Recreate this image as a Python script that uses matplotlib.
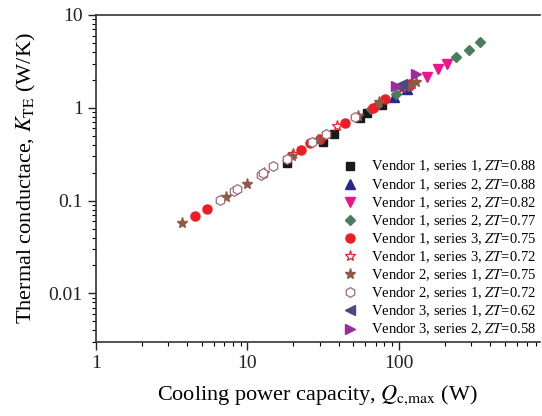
import matplotlib.pyplot as plt
from matplotlib.ticker import LogLocator, NullFormatter

plt.rcParams['font.family'] = ['Liberation Serif', 'DejaVu Serif']
plt.rcParams['mathtext.fontset'] = 'stix'

# Vendor 1, series 1, ZT=0.88
v1s1_q = [18.3, 31.6, 37.4, 55.4, 61.6, 77.3]
v1s1_k = [0.253, 0.426, 0.519, 0.77, 0.873, 1.06]
# Vendor 1, series 2, ZT=0.88
v1s2a_q = [92.7, 113]
v1s2a_k = [1.30, 1.58]
# Vendor 1, series 2, ZT=0.82
v1s2b_q = [122, 153, 181, 207]
v1s2b_k = [1.76, 2.13, 2.59, 2.94]
# Vendor 1, series 2, ZT=0.77
v1s2c_q = [65, 70, 95.5, 237, 289, 341]
v1s2c_k = [0.98, 1.05, 1.40, 3.49, 4.15, 5.06]
# Vendor 1, series 3, ZT=0.75
v1s3a_q = [4.48, 5.37, 22.7, 26.0, 30.0, 44.2, 67.4, 81.0, 118]
v1s3a_k = [0.068, 0.081, 0.35, 0.415, 0.46, 0.68, 0.99, 1.23, 1.79]
# Vendor 1, series 3, ZT=0.72
v1s3b_q = [20.1, 39.1, 105]
v1s3b_k = [0.316, 0.633, 1.62]
# Vendor 2, series 1, ZT=0.75
v2s1a_q = [3.72, 7.17, 10.0, 12.9, 18.6, 19.8, 29.3, 53.7, 73.9, 111, 122, 129]
v2s1a_k = [0.057, 0.109, 0.15, 0.198, 0.286, 0.30, 0.448, 0.81, 1.15, 1.66, 1.79, 1.88]
# Vendor 2, series 1, ZT=0.72
v2s1b_q = [6.56, 8.21, 8.59, 12.2, 12.6, 14.8, 18.3, 26.8, 33.1, 51.4]
v2s1b_k = [0.101, 0.126, 0.133, 0.188, 0.198, 0.235, 0.279, 0.426, 0.519, 0.79]
# Vendor 3, series 1, ZT=0.62
v3s1_q = [98.5, 105]
v3s1_k = [1.70, 1.79]
# Vendor 3, series 2, ZT=0.58
v3s2_q = [95.5, 129]
v3s2_k = [1.70, 2.29]

fig = plt.figure(figsize=(5.42, 4.16), dpi=100)
ax = fig.add_axes([0.177, 0.178, 0.819, 0.786])

ms = 6.5
ax.plot(v1s1_q, v1s1_k, 's', color='#1a1a1a', ms=5.5, label='Vendor 1, series 1, $ZT$=0.88')
ax.plot(v1s2a_q, v1s2a_k, '^', color='#27288f', ms=ms, label='Vendor 1, series 2, $ZT$=0.88')
ax.plot(v1s2b_q, v1s2b_k, 'v', color='#ec168c', ms=ms, label='Vendor 1, series 2, $ZT$=0.82')
ax.plot(v1s2c_q, v1s2c_k, 'D', color='#4a7d5c', ms=5.5, label='Vendor 1, series 2, $ZT$=0.77')
ax.plot(v1s3a_q, v1s3a_k, 'o', color='#ee1c25', ms=ms, label='Vendor 1, series 3, $ZT$=0.75')
ax.plot(v1s3b_q, v1s3b_k, '*', mfc='white', mec='#ee1c25', mew=0.9, ms=8, label='Vendor 1, series 3, $ZT$=0.72')
ax.plot(v2s1a_q, v2s1a_k, '*', color='#8e5a45', ms=8, label='Vendor 2, series 1, $ZT$=0.75')
ax.plot(v2s1b_q, v2s1b_k, 'h', mfc='white', mec='#a06a78', mew=0.9, ms=7, label='Vendor 2, series 1, $ZT$=0.72')
ax.plot(v3s1_q, v3s1_k, '<', color='#4a4a82', ms=ms, label='Vendor 3, series 1, $ZT$=0.62')
ax.plot(v3s2_q, v3s2_k, '>', color='#9b2c9c', ms=ms, label='Vendor 3, series 2, $ZT$=0.58')

ax.set_xscale('log')
ax.set_yscale('log')
ax.set_xlim(1, 850)
ax.set_ylim(0.003, 10)
ax.set_xticks([1, 10, 100])
ax.set_xticklabels(['1', '10', '100'])
ax.set_yticks([0.01, 0.1, 1, 10])
ax.set_yticklabels(['0.01', '0.1', '1', '10'])
ax.xaxis.set_minor_locator(LogLocator(base=10, subs=range(2, 10)))
ax.yaxis.set_minor_locator(LogLocator(base=10, subs=range(2, 10)))
ax.xaxis.set_minor_formatter(NullFormatter())
ax.yaxis.set_minor_formatter(NullFormatter())
ax.tick_params(which='major', direction='out', length=6, width=1, labelsize=14, colors='#222222')
ax.tick_params(which='minor', direction='out', length=3, width=0.8)
ax.spines['right'].set_visible(False)
for s in ['left', 'bottom', 'top']:
    ax.spines[s].set_linewidth(1.2)
    ax.spines[s].set_color('#333333')

ax.set_xlabel('Cooling power capacity, $Q_{\\mathrm{c{,}max}}$ (W)', fontsize=16, labelpad=8)
ax.set_ylabel('Thermal conductace, $K_{\\mathrm{TE}}$ (W/K)', fontsize=16, labelpad=8)

ax.legend(loc='lower right', bbox_to_anchor=(1.005, -0.004), frameon=False, fontsize=10.5,
          handlelength=1.0, handletextpad=0.9, labelspacing=0.17, borderaxespad=0.0)

fig.savefig('out.png', dpi=100)
